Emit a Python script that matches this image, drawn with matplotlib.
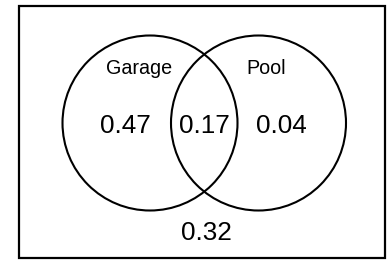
import matplotlib.pyplot as plt
from matplotlib.patches import Circle, Rectangle

plt.rcParams['font.family'] = ['Liberation Sans', 'DejaVu Sans']

# Venn diagram data
set_labels = ['Garage', 'Pool']
region_labels = ['Garage only', 'Both', 'Pool only', 'Neither']
region_values = [0.47, 0.17, 0.04, 0.32]

fig = plt.figure(figsize=(3.91, 2.60), dpi=100)
ax = fig.add_axes([0, 0, 1, 1])
ax.set_xlim(0, 391)
ax.set_ylim(260, 0)
ax.set_aspect('equal')
ax.axis('off')

# frame
ax.add_patch(Rectangle((18.5, 5.5), 366, 252, fill=False, edgecolor='black', linewidth=1.6))

# circles (pixel layout)
centers = [(150, 123), (258.5, 123)]
radius = 87.5
for c in centers:
    ax.add_patch(Circle(c, radius, fill=False, edgecolor='black', linewidth=1.5))

# set names
name_pos = [(139, 68), (266.5, 68)]
for name, (x, y) in zip(set_labels, name_pos):
    ax.text(x, y, name, ha='center', va='center', fontsize=14.2)

# region values
value_pos = [(125.7, 126), (204, 126), (281, 126), (206.7, 232.5)]
for v, (x, y) in zip(region_values, value_pos):
    ax.text(x, y, f'{v:.2f}', ha='center', va='center', fontsize=18.8)

plt.savefig('out.png', dpi=100)
